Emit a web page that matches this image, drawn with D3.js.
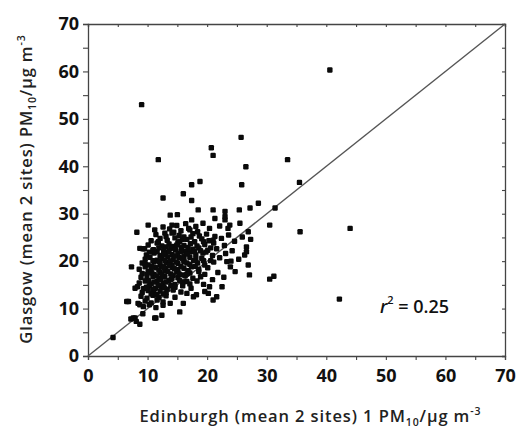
<!DOCTYPE html>
<html><head><meta charset="utf-8">
<script src="https://cdn.jsdelivr.net/npm/d3@7"></script>
<style>body{margin:0;background:#fff}svg{display:block}</style>
</head><body>
<svg id="c" width="520" height="432"></svg>
<script>
const xTicks = [0,10,20,30,40,50,60,70];
const yTicks = [0,10,20,30,40,50,60,70];
const cluster = [
[12.6,27.2],[13.7,26.8],[14.9,27.5],[15.6,26.4],[16.4,27.9],[17.1,26.6],[18.1,27.3],[20.4,26.9],[22.1,27.4],
[11.4,25.6],[13.1,25.2],[14.1,25.9],[15.3,25.4],[16.1,25.1],[17.6,25.8],[18.7,25.3],[19.9,25.7],[21.3,25.2],[23.6,25.5],
[10.6,24.3],[12.1,24.8],[13.3,24.4],[14.6,24.9],[15.4,24.2],[16.6,24.6],[17.9,24.1],[19.1,24.7],[20.3,24.3],[22.4,24.8],[24.6,24.2],
[10.1,23.4],[11.6,23.8],[12.4,23.2],[13.6,23.6],[14.3,23.1],[15.1,23.9],[16.1,23.3],[17.2,23.7],[18.3,23.2],[19.6,23.5],[21.1,23.8],[22.9,23.3],
[9.2,22.6],[10.9,22.3],[11.9,22.8],[12.7,22.2],[13.9,22.7],[14.7,22.4],[15.7,22.9],[16.4,22.1],[17.6,22.5],[18.6,22.8],[20.1,22.3],[21.6,22.6],
[9.8,21.3],[11.1,21.7],[12.1,21.2],[13.1,21.8],[14.1,21.4],[15.1,21.6],[16.1,21.1],[17.1,21.9],[18.1,21.3],[19.3,21.7],[20.9,21.2],[23.1,21.6],
[9.6,20.4],[10.4,20.8],[11.6,20.2],[12.4,20.6],[13.4,20.9],[14.3,20.3],[15.3,20.7],[16.1,20.2],[17.1,20.8],[18.1,20.4],[19.1,20.6],[20.6,20.1],[22.1,20.7],
[9.1,19.6],[10.1,19.2],[11.1,19.8],[12.1,19.3],[13.1,19.7],[14.1,19.1],[15.1,19.5],[16.1,19.9],[17.1,19.3],[18.4,19.6],[19.6,19.2],[21.1,19.8],
[8.6,18.3],[9.6,18.8],[10.6,18.2],[11.4,18.6],[12.3,18.9],[13.1,18.4],[14.1,18.7],[15.1,18.2],[16.1,18.5],[17.4,18.8],[18.6,18.3],[20.1,18.6],
[9.1,17.4],[10.1,17.8],[11.1,17.2],[12.1,17.6],[12.9,17.9],[13.9,17.3],[14.9,17.7],[15.9,17.1],[17.1,17.5],[18.6,17.8],[19.6,17.2],
[8.9,16.6],[9.9,16.2],[10.9,16.8],[11.9,16.3],[12.9,16.7],[13.9,16.1],[15.1,16.5],[16.3,16.9],[17.6,16.4],[18.9,16.7],
[8.6,15.4],[9.6,15.8],[10.6,15.2],[11.6,15.7],[12.6,15.3],[13.6,15.9],[14.6,15.1],[15.9,15.6],[17.1,15.2],[18.3,15.8],
[8.3,14.6],[9.3,14.2],[10.3,14.8],[11.3,14.3],[12.3,14.7],[13.3,14.1],[14.6,14.5],[15.9,14.8],[17.3,14.3],
[9.1,13.4],[10.1,13.8],[11.1,13.2],[12.1,13.7],[13.1,13.3],[14.3,13.9],[15.6,13.5],
[8.9,12.6],[9.9,12.2],[10.9,12.8],[11.9,12.3],[13.1,12.7],[14.6,12.4],
[9.6,11.6],[10.6,11.2],[11.6,11.8],[12.6,11.4],
[9.3,10.4],[10.3,10.8],[11.4,10.2],[12.6,10.7]
];
const core = [
[11.8,24.1],[12.9,25.9],[14.4,26.1],[15.9,24.6],[17.3,25.1],[18.4,26.2],[13.1,23.0],[14.9,23.4],[16.8,22.9],[18.9,22.2],
[10.3,21.9],[11.6,22.0],[12.8,21.4],[13.6,22.1],[14.6,21.1],[15.6,22.1],[16.7,21.5],[17.9,22.0],[19.8,21.9],[10.9,20.1],
[12.0,19.9],[12.9,20.2],[13.8,20.0],[14.8,19.8],[15.8,20.6],[16.6,19.6],[17.7,20.1],[19.4,20.1],[9.6,19.4],[10.7,18.9],
[11.9,18.1],[12.7,18.7],[13.6,19.1],[14.5,18.4],[15.6,18.9],[16.8,18.0],[18.0,18.9],[9.9,17.2],[10.7,17.5],[11.5,16.9],
[12.4,17.1],[13.4,17.8],[14.3,17.0],[15.3,17.3],[16.6,17.3],[10.2,15.9],[11.1,15.6],[12.2,16.1],[13.1,15.6],[14.1,16.4],
[15.4,15.9],[16.6,15.7],[9.8,14.5],[10.9,14.0],[11.8,14.9],[12.8,14.4],[13.9,14.8],[10.6,13.1],[11.6,12.9],[12.6,13.1],
[16.9,26.9],[19.4,24.1],[21.0,24.4],[20.6,22.8],[14.1,27.6],[11.2,26.6]
];
const scattered = [
[4.2,3.9],[6.5,11.5],[7.3,18.8],[7.9,8.0],[8.7,6.7],[8.7,10.8],[11.4,8.0],[12.4,8.6],[15.4,9.3],[13.8,11.1],
[16.0,11.1],[16.6,13.2],[17.7,12.5],[18.2,12.9],[20.2,13.2],[21.0,11.8],[21.6,12.5],[19.6,13.6],[22.5,14.6],
[24.7,17.8],[26.9,19.2],[27.1,17.1],[30.5,16.2],[31.2,16.8],[42.2,12.0],[26.3,21.3],[26.6,22.0],[23.3,19.9],
[24.0,20.0],[26.6,23.0],[23.5,26.9],[26.9,26.2],[25.5,28.0],[23.0,28.7],[23.8,27.6],[19.3,28.0],[17.4,28.7],
[21.3,29.0],[23.0,29.4],[21.0,30.8],[23.0,30.5],[18.5,30.8],[13.8,29.7],[15.0,29.8],[10.1,27.6],[8.2,26.1],
[8.7,22.7],[9.5,22.6],[11.0,22.4],[7.9,14.3],[6.8,11.5],[8.4,11.1],[7.6,8.0],[11.2,8.0],[27.2,31.2],[28.6,32.2],
[31.4,31.2],[30.5,27.6],[35.6,26.2],[44.0,26.9],[12.6,33.3],[16.0,34.2],[17.4,32.8],[17.4,36.1],[18.8,36.8],
[25.8,36.1],[35.5,36.6],[26.5,39.9],[33.5,41.4],[11.8,41.4],[21.0,42.3],[20.7,43.9],[25.7,46.1],[9.0,53.0],
[40.6,60.3],[24.2,22.2],[25.3,20.4],[22.8,16.6],[23.9,18.8],[27.3,24.6],[25.9,25.1],[20.9,16.1],[21.8,17.6],
[19.4,15.1],[20.4,14.6],[8.1,7.3],[9.2,8.9],[7.2,7.8],[25.4,30.8]
];
const points = cluster.concat(core, scattered);
const r2Label = "0.25";

const svg = d3.select("#c");
const x = d3.scaleLinear().domain([0,70]).range([88,505]);
const y = d3.scaleLinear().domain([0,70]).range([356,24]);
const axisColor = "#444";
const fontF = "'Open Sans', 'DejaVu Sans', sans-serif";

const minor = d3.range(0,71,5);
const g = svg.append("g");
const bx = g.append("g").attr("transform",`translate(0,${y(0)})`)
  .call(d3.axisBottom(x).tickValues(minor).tickSize(4).tickFormat(d => xTicks.includes(d) ? d : ""));
const ly = g.append("g").attr("transform",`translate(${x(0)},0)`)
  .call(d3.axisLeft(y).tickValues(minor).tickSize(5).tickFormat(d => yTicks.includes(d) ? d : ""));
const tx = g.append("g").attr("transform",`translate(0,${y(70)})`)
  .call(d3.axisBottom(x).tickValues(minor).tickSize(3).tickFormat(""));
const ry = g.append("g").attr("transform",`translate(${x(70)},0)`)
  .call(d3.axisLeft(y).tickValues(minor).tickSize(3).tickFormat(""));
[bx,ly,tx,ry].forEach(a => {
  a.select(".domain").attr("stroke",axisColor).attr("stroke-width",1.3);
  a.selectAll(".tick line").attr("stroke",axisColor).attr("stroke-width",1.1);
  a.selectAll("text").attr("font-family",fontF).attr("font-size",18).attr("font-weight",700).attr("fill","#111");
});
bx.selectAll("text").attr("dy","1.05em");
ly.selectAll("text").attr("x",-9);

svg.append("line").attr("x1",x(0)).attr("y1",y(0)).attr("x2",x(70)).attr("y2",y(70))
  .attr("stroke","#555").attr("stroke-width",1.4);

svg.append("g").selectAll("rect").data(points).join("rect")
  .attr("x",d => x(d[0]) - 2.7).attr("y",d => y(d[1]) - 2.7)
  .attr("width",5.4).attr("height",5.4).attr("rx",1.2)
  .attr("fill","#0a0a0a");

const rt = svg.append("text").attr("x",380).attr("y",313)
  .attr("font-family",fontF).attr("font-size",18).attr("font-weight",600).attr("fill","#111");
rt.append("tspan").attr("font-style","italic").text("r");
rt.append("tspan").attr("font-size",11).attr("dy",-9).text("2");
rt.append("tspan").attr("dy",9).text(" = " + r2Label);

const titleSize = 16.5;
const xt = svg.append("text").attr("x",(x(0)+x(70))/2 + 14).attr("y",422).attr("text-anchor","middle")
  .attr("font-family",fontF).attr("font-size",titleSize).attr("font-weight",600)
  .attr("letter-spacing",0.9).attr("fill","#222");
xt.append("tspan").text("Edinburgh (mean 2 sites) 1 PM");
xt.append("tspan").attr("font-size",10.5).attr("dy",4).text("10");
xt.append("tspan").attr("dy",-4).text("/μg m");
xt.append("tspan").attr("font-size",10.5).attr("dy",-7).text("-3");

const yt = svg.append("text").attr("transform",`translate(32,${(y(0)+y(70))/2 - 1}) rotate(-90)`)
  .attr("text-anchor","middle")
  .attr("font-family",fontF).attr("font-size",titleSize).attr("font-weight",600)
  .attr("letter-spacing",0.9).attr("fill","#222");
yt.append("tspan").text("Glasgow (mean 2 sites) PM");
yt.append("tspan").attr("font-size",10.5).attr("dy",4).text("10");
yt.append("tspan").attr("dy",-4).text("/μg m");
yt.append("tspan").attr("font-size",10.5).attr("dy",-7).text("-3");
</script>
</body></html>
